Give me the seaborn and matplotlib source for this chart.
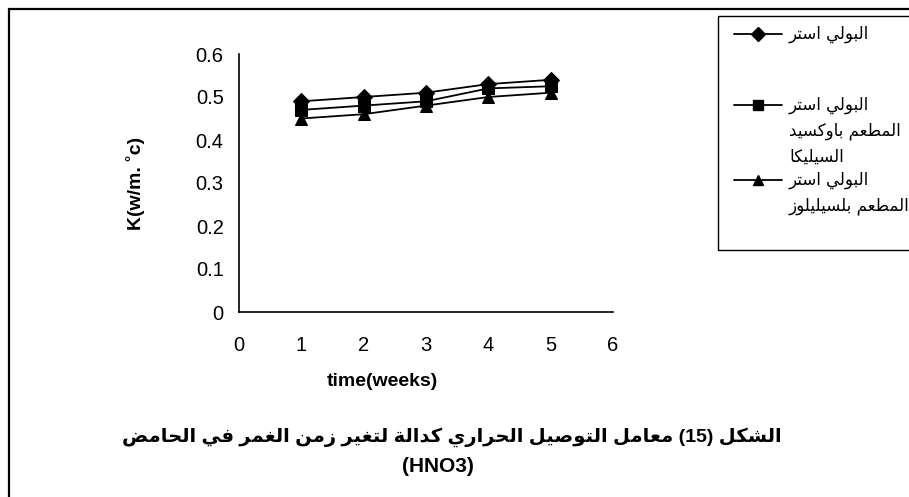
import matplotlib
matplotlib.use("Agg")
import matplotlib.pyplot as plt
import pandas as pd
import seaborn as sns
from matplotlib.lines import Line2D
from matplotlib.patches import Rectangle

# ---- data -------------------------------------------------------------
weeks = [1, 2, 3, 4, 5]
k_polyester = [0.49, 0.50, 0.51, 0.53, 0.54]
k_silica = [0.47, 0.48, 0.49, 0.52, 0.525]
k_cellulose = [0.45, 0.46, 0.48, 0.50, 0.51]

series_names = ["polyester", "silica", "cellulose"]
legend_lines = [
    ["البولي استر"],
    ["البولي استر", "المطعم باوكسيد", "السيليكا"],
    ["البولي استر", "المطعم بلسيليلوز"],
]
series_markers = ["D", "s", "^"]
x_ticks = [0, 1, 2, 3, 4, 5, 6]
y_ticks = [0, 0.1, 0.2, 0.3, 0.4, 0.5, 0.6]
y_tick_labels = ["0", "0.1", "0.2", "0.3", "0.4", "0.5", "0.6"]
x_label = "time(weeks)"
y_label = "K(w/m. ˚c)"
title_lines = [
    "الشكل (15) معامل التوصيل الحراري كدالة لتغير زمن الغمر في الحامض",
    "(HNO3)",
]

# ---- minimal Arabic shaping (contextual forms + right-to-left order) ----
_FORMS = {
    'ا': (0xFE8D, False), 'ب': (0xFE8F, True), 'ة': (0xFE93, False),
    'ت': (0xFE95, True), 'ث': (0xFE99, True), 'ج': (0xFE9D, True),
    'ح': (0xFEA1, True), 'خ': (0xFEA5, True), 'د': (0xFEA9, False),
    'ذ': (0xFEAB, False), 'ر': (0xFEAD, False), 'ز': (0xFEAF, False),
    'س': (0xFEB1, True), 'ش': (0xFEB5, True), 'ص': (0xFEB9, True),
    'ض': (0xFEBD, True), 'ط': (0xFEC1, True), 'ظ': (0xFEC5, True),
    'ع': (0xFEC9, True), 'غ': (0xFECD, True), 'ف': (0xFED1, True),
    'ق': (0xFED5, True), 'ك': (0xFED9, True), 'ل': (0xFEDD, True),
    'م': (0xFEE1, True), 'ن': (0xFEE5, True), 'ه': (0xFEE9, True),
    'و': (0xFEED, False), 'ى': (0xFEEF, False), 'ي': (0xFEF1, True),
}
_LAM_ALEF = "LA"


def _form_info(c):
    if c == _LAM_ALEF:
        return (0xFEFB, False)
    return _FORMS.get(c)


def _shape_word(word):
    chars, i = [], 0
    while i < len(word):
        if word[i] == 'ل' and i + 1 < len(word) and word[i + 1] == 'ا':
            chars.append(_LAM_ALEF)
            i += 2
        else:
            chars.append(word[i])
            i += 1
    out = []
    for j, c in enumerate(chars):
        info = _form_info(c)
        if info is None:
            out.append(c)
            continue
        base, dual = info
        prev = _form_info(chars[j - 1]) if j > 0 else None
        nxt = _form_info(chars[j + 1]) if j + 1 < len(chars) else None
        join_prev = prev is not None and prev[1]
        join_next = dual and nxt is not None
        if c == _LAM_ALEF:
            out.append(chr(0xFEFC if join_prev else 0xFEFB))
        elif join_prev and join_next:
            out.append(chr(base + 3))
        elif join_prev:
            out.append(chr(base + 1))
        elif join_next:
            out.append(chr(base + 2))
        else:
            out.append(chr(base))
    return "".join(reversed(out))


def rtl(line):
    tokens = line.split(" ")
    shaped = [_shape_word(t) if any(ch in _FORMS for ch in t) else t for t in tokens]
    return " ".join(reversed(shaped))


# ---- style ------------------------------------------------------------
sns.set_theme(style="white")
plt.rcParams["font.family"] = ["Liberation Sans", "DejaVu Sans"]
plt.rcParams["text.color"] = "black"
plt.rcParams["axes.labelcolor"] = "black"
plt.rcParams["xtick.color"] = "black"
plt.rcParams["ytick.color"] = "black"

W, H = 909, 497
fig = plt.figure(figsize=(W / 100, H / 100), dpi=100)
ax = fig.add_axes([239 / W, 1 - 312 / H, (613 - 239) / W, (312 - 54) / H])

df = pd.DataFrame({
    "week": weeks * 3,
    "k": k_polyester + k_silica + k_cellulose,
    "series": [s for s in series_names for _ in weeks],
})

sns.lineplot(
    data=df, x="week", y="k", hue="series", style="series",
    hue_order=series_names, style_order=series_names,
    palette=["black"] * 3, markers=dict(zip(series_names, series_markers)),
    dashes=False, markersize=8, linewidth=1.3, markeredgecolor="black",
    legend=False, ax=ax,
)

ax.set_xlim(0, 6)
ax.set_ylim(0, 0.6)
ax.set_xticks(x_ticks)
ax.set_xticklabels([str(t) for t in x_ticks])
ax.set_yticks(y_ticks)
ax.set_yticklabels(y_tick_labels)
for side in ("top", "right"):
    ax.spines[side].set_visible(False)
for side in ("left", "bottom"):
    ax.spines[side].set_color("black")
    ax.spines[side].set_linewidth(1.2)
ax.tick_params(axis="x", direction="in", length=5, width=1.2, pad=17, labelsize=14.5)
ax.tick_params(axis="y", direction="out", length=6, width=1.2, pad=5, labelsize=14.5)

ax.set_xlabel(x_label, fontsize=14, fontweight="bold")
ax.xaxis.set_label_coords((382 - 239) / 374, (312 - 373) / 258)
ax.set_ylabel(y_label, fontsize=14, fontweight="bold")
ax.yaxis.set_label_coords((145 - 239) / 374, 0.5)


def fx(px):
    return px / W


def fy(py):
    return 1 - py / H


# outer frame
fig.add_artist(Rectangle((fx(8.5), -0.1), 2, fy(8.5) + 0.1,
                         transform=fig.transFigure, fill=False,
                         edgecolor="black", linewidth=1.6))

# legend box
fig.add_artist(Rectangle((fx(718), fy(250)), 1, fy(16) - fy(250),
                         transform=fig.transFigure, fill=False,
                         edgecolor="black", linewidth=1.0))
entry_y = [34, 105, 180]
line_step = 26
for marker, lines, y0 in zip(series_markers, legend_lines, entry_y):
    fig.add_artist(Line2D([fx(734), fx(782)], [fy(y0), fy(y0)],
                          transform=fig.transFigure, color="black", linewidth=1.3))
    fig.add_artist(Line2D([fx(758)], [fy(y0)], transform=fig.transFigure,
                          marker=marker, markersize=7, color="black",
                          markeredgecolor="black", linestyle="none"))
    for i, txt in enumerate(lines):
        fig.text(fx(789), fy(y0 + i * line_step), rtl(txt), ha="left",
                 va="center", fontsize=12, family=["DejaVu Sans"])

# caption
fig.text(fx(452), fy(437), rtl(title_lines[0]), ha="center", va="center",
         fontsize=14, fontweight="bold")
fig.text(fx(438), fy(466), rtl(title_lines[1]), ha="center", va="center",
         fontsize=15, fontweight="bold")

fig.savefig("out.png", dpi=100, facecolor="white")
